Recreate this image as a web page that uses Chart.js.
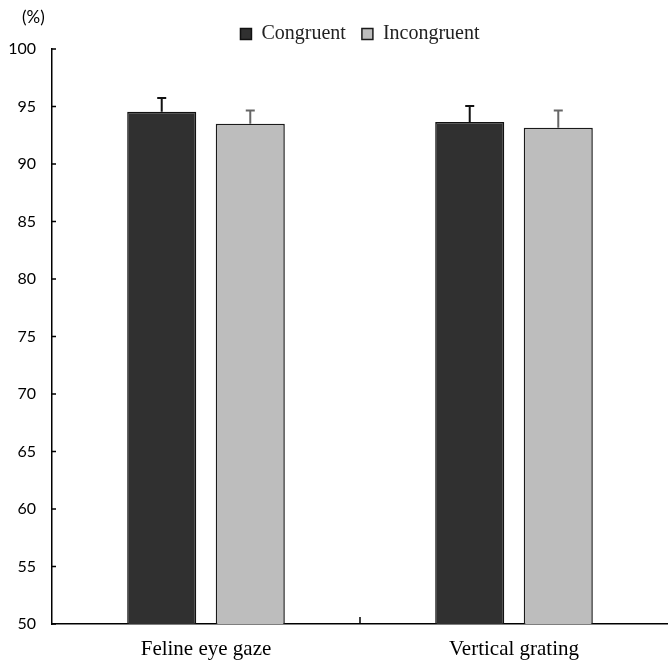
<!DOCTYPE html>
<html>
<head>
<meta charset="utf-8">
<script src="https://cdn.jsdelivr.net/npm/chart.js@4"></script>
<style>
  body { margin: 0; background: #fff; }
  #wrap { width: 668px; height: 663px; }
</style>
</head>
<body>
<div id="wrap"><canvas id="myChart"></canvas></div>
<script>
const categorias = ["Feline eye gaze", "Vertical grating"];
const congruente = [94.55, 93.65];
const incongruente = [93.5, 93.15];
const errCongruente = [1.2, 1.4];
const errIncongruente = [1.15, 1.5];
const yTicks = [50, 55, 60, 65, 70, 75, 80, 85, 90, 95, 100];

const serif = "'Liberation Serif', 'Times New Roman', serif";
const sans = "Lato, 'Liberation Sans', sans-serif";

//Barras de error (solo hacia arriba) y marcas de eje hacia dentro
const extras = {
  id: "extras",
  afterLayout(chart) {
    //centrar la leyenda sobre el área del gráfico
    chart.legend.left = chart.chartArea.left;
    chart.legend.top += 5;
  },
  afterDatasetsDraw(chart) {
    const ctx = chart.ctx;
    const y = chart.scales.y;
    const x = chart.scales.x;
    const errores = [errCongruente, errIncongruente];
    const colores = ["#111", "#666"];
    ctx.save();
    chart.data.datasets.forEach((ds, i) => {
      const meta = chart.getDatasetMeta(i);
      meta.data.forEach((bar, j) => {
        const top = y.getPixelForValue(ds.data[j] + errores[i][j]);
        ctx.strokeStyle = colores[i];
        ctx.lineWidth = 2;
        ctx.beginPath();
        ctx.moveTo(bar.x, bar.y);
        ctx.lineTo(bar.x, top);
        ctx.moveTo(bar.x - 4.5, top);
        ctx.lineTo(bar.x + 4.5, top);
        ctx.stroke();
      });
    });
    //ticks
    ctx.strokeStyle = "#000";
    ctx.lineWidth = 1.5;
    ctx.beginPath();
    yTicks.forEach((v) => {
      const py = y.getPixelForValue(v);
      ctx.moveTo(x.left, py);
      ctx.lineTo(x.left + 4, py);
    });
    const mid = (x.getPixelForValue(0) + x.getPixelForValue(1)) / 2;
    ctx.moveTo(mid, y.bottom);
    ctx.lineTo(mid, y.bottom - 7);
    ctx.stroke();
    //(%)
    ctx.fillStyle = "#000";
    ctx.font = "17px " + sans;
    ctx.textAlign = "left";
    ctx.textBaseline = "middle";
    ctx.fillText("(%)", 22, 18);
    ctx.restore();
  },
};

const config = {
  type: "bar",
  data: {
    labels: categorias,
    datasets: [
      {
        label: "Congruent",
        data: congruente,
        backgroundColor: "#303030",
        borderColor: "#111",
        borderWidth: 1.5,
      },
      {
        label: "Incongruent",
        data: incongruente,
        backgroundColor: "#bdbdbd",
        borderColor: "#1a1a1a",
        borderWidth: 1.5,
      },
    ],
  },
  options: {
    responsive: true,
    maintainAspectRatio: false,
    animation: false,
    datasets: {
      bar: { categoryPercentage: 0.575, barPercentage: 0.78 },
    },
    layout: { padding: { top: 3, right: 0, left: 0, bottom: 0 } },
    plugins: {
      legend: {
        labels: {
          boxWidth: 11,
          boxHeight: 11,
          padding: 16,
          color: "#222",
          font: { family: serif, size: 20 },
        },
      },
      tooltip: { enabled: false },
    },
    scales: {
      x: {
        grid: { display: false, drawTicks: false },
        border: { color: "#000", width: 1.5 },
        ticks: {
          color: "#000",
          padding: 13,
          font: { family: serif, size: 21 },
        },
        afterFit(scale) {
          scale.height = 39;
        },
      },
      y: {
        min: 50,
        max: 100,
        grid: { display: false, drawTicks: false },
        border: { color: "#000", width: 1.5 },
        ticks: {
          stepSize: 5,
          color: "#000",
          padding: 16,
          font: { family: sans, size: 16 },
        },
        afterFit(scale) {
          scale.width = 52;
        },
      },
    },
  },
  plugins: [extras],
};

new Chart(document.getElementById("myChart"), config);
</script>
</body>
</html>
